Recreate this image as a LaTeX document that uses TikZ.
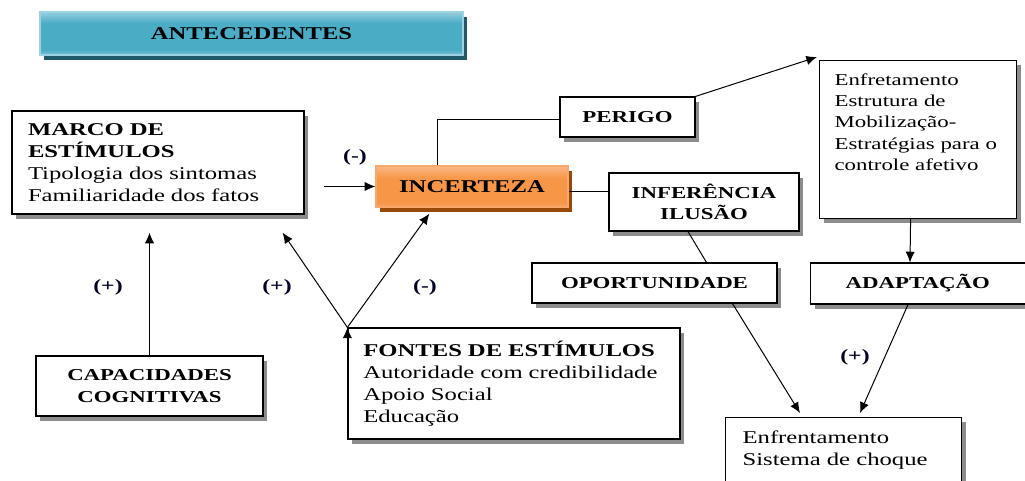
\documentclass[tikz,border=0pt]{standalone}
\usepackage{fontspec}
\setmainfont{Liberation Serif}[FakeStretch=1.37]
\usetikzlibrary{positioning,calc,shadows,arrows.meta}

\definecolor{antTop}{HTML}{93CDDD}
\definecolor{antMid}{HTML}{4BACC6}
\definecolor{antBot}{HTML}{7DC2D6}
\definecolor{antLine}{HTML}{9CD2E1}
\definecolor{antShadow}{HTML}{215968}
\definecolor{incTop}{HTML}{FAB888}
\definecolor{incMid}{HTML}{F79646}
\definecolor{incBot}{HTML}{F8A263}
\definecolor{incLine}{HTML}{F8A96A}
\definecolor{incShadow}{HTML}{984807}

\pgfdeclareverticalshading{antshade}{100bp}{color(0bp)=(antBot); color(25bp)=(antBot);
    color(31bp)=(antMid); color(62bp)=(antMid); color(75bp)=(antTop); color(100bp)=(antTop)}
\pgfdeclareverticalshading{incshade}{100bp}{color(0bp)=(incBot); color(25bp)=(incBot);
    color(31bp)=(incMid); color(60bp)=(incMid); color(75bp)=(incTop); color(100bp)=(incTop)}

\tikzset{
    big/.style={font=\fontsize{13.5}{16.5}\selectfont},
    small/.style={font=\fontsize{12.5}{16}\selectfont\bfseries},
    box/.style={draw, fill=white, line width=0.9pt,
        drop shadow={shadow xshift=3pt, shadow yshift=-3.5pt, fill=black!45, opacity=1}},
    headbox/.style={draw=antLine, line width=1pt, shading=antshade,
        font=\fontsize{13.5}{16.5}\selectfont\bfseries,
        drop shadow={shadow xshift=3pt, shadow yshift=-4pt, fill=antShadow, opacity=1}},
    hotbox/.style={draw=incLine, line width=1pt, shading=incshade,
        font=\fontsize{13.5}{16.5}\selectfont\bfseries,
        drop shadow={shadow xshift=3pt, shadow yshift=-4pt, fill=incShadow, opacity=1}},
    sign/.style={font=\fontsize{13}{15}\selectfont\bfseries, text=black!85!blue},
    arr/.style={-{Latex[length=8pt,width=7pt]}, line width=0.75pt},
}

\begin{document}
\begin{tikzpicture}[x=0.75pt, y=-0.75pt, every node/.style={big}]
    \useasboundingbox (0,0) rectangle (1025,481);
    \clip (0,0) rectangle (1025,481);

    % caixas
    \node (antec) [headbox, minimum width=317.25pt, minimum height=32.25pt] at (251.5,33.5) {ANTECEDENTES};
    \node (marco) [box, align=left, text width=195pt, inner xsep=12pt, minimum height=77.25pt]
        at (158,162.5) {\textbf{MARCO DE}\\\textbf{ESTÍMULOS}\\Tipologia dos sintomas\\Familiaridade dos fatos};
    \node (incerteza) [hotbox, minimum width=144pt, minimum height=30.75pt] at (472,186.5) {INCERTEZA};
    \node (perigo) [box, small, minimum width=101.25pt, minimum height=30pt] at (627.5,117) {PERIGO};
    \node (enfr) [box, anchor=north west, inner xsep=11.25pt, inner ysep=9.5pt,
        font=\fontsize{12.5}{16}\selectfont] at (819,60)
        {\begin{minipage}[c][99.5pt][t]{125.25pt}\raggedright
        Enfretamento\\Estrutura de\\Mobilização-\\Estratégias para o\\controle afetivo\end{minipage}};
    \node (inferencia) [box, small, align=center, minimum width=142.5pt, minimum height=43.5pt]
        at (704,202) {INFERÊNCIA\\ILUSÃO};
    \node (oport) [box, small, minimum width=183.75pt, minimum height=30pt] at (654.5,283) {OPORTUNIDADE};
    \node (adapt) [box, small, anchor=west, align=left, text width=135pt, inner xsep=26.25pt,
        minimum height=30.75pt] at (810,283.5) {ADAPTAÇÃO};
    \node (capac) [box, small, align=center, minimum width=170.25pt, minimum height=45pt]
        at (149.5,386) {CAPACIDADES\\COGNITIVAS};
    \node (fontes) [box, align=left, text width=226pt, inner xsep=11.5pt, minimum height=83.25pt]
        at (514,383.5) {\textbf{FONTES DE ESTÍMULOS}\\Autoridade com credibilidade\\Apoio Social\\Educação};
    \node (choque) [box, anchor=north west, inner xsep=12.75pt, inner ysep=10pt] at (725,417)
        {\begin{minipage}[c][60pt][t]{151.5pt}\raggedright
        Enfrentamento\\Sistema de choque\end{minipage}};

    % sinais
    \node (neg1) [sign] at (355,157) {(-)};
    \node (pos1) [sign] at (108,287) {(+)};
    \node (pos2) [sign] at (277,287) {(+)};
    \node (neg2) [sign] at (425,287) {(-)};
    \node (pos3) [sign] at (855,357) {(+)};

    % ligacoes
    \draw[arr] ($(incerteza.west)+(-51,0)$) -- (incerteza.west);
    \draw[line width=0.75pt] ($(incerteza.north)+(-35,0)$) |- ($(perigo.west)+(0,3)$);
    \draw[arr] (perigo.north east) -- ($(enfr.north west)+(-2,-3)$);
    \draw[line width=0.75pt] ($(incerteza.east)+(0,5.5)$) -- ($(inferencia.west)+(0,-10)$);
    \draw[line width=0.75pt] ($(inferencia.south)+(-16,0)$) -- ($(oport.north)+(52,0)$);
    \draw[arr] ($(oport.south)+(78,0)$) -- ($(choque.north west)+(75,-4)$);
    \draw[arr] ($(enfr.south)+(-7.5,0)$) -- ($(adapt.north west)+(100,0)$);
    \draw[arr] ($(adapt.south west)+(98,0)$) -- ($(choque.north west)+(135,-4)$);
    \draw[arr] (capac.north) -- ($(capac.north |- marco.south)+(0,18)$);
    \draw[arr]
        (fontes.north west) edge ($(marco.south east)+(-22,18)$)
        (fontes.north west) edge ($(incerteza.south west)+(54,6)$);
\end{tikzpicture}
\end{document}
